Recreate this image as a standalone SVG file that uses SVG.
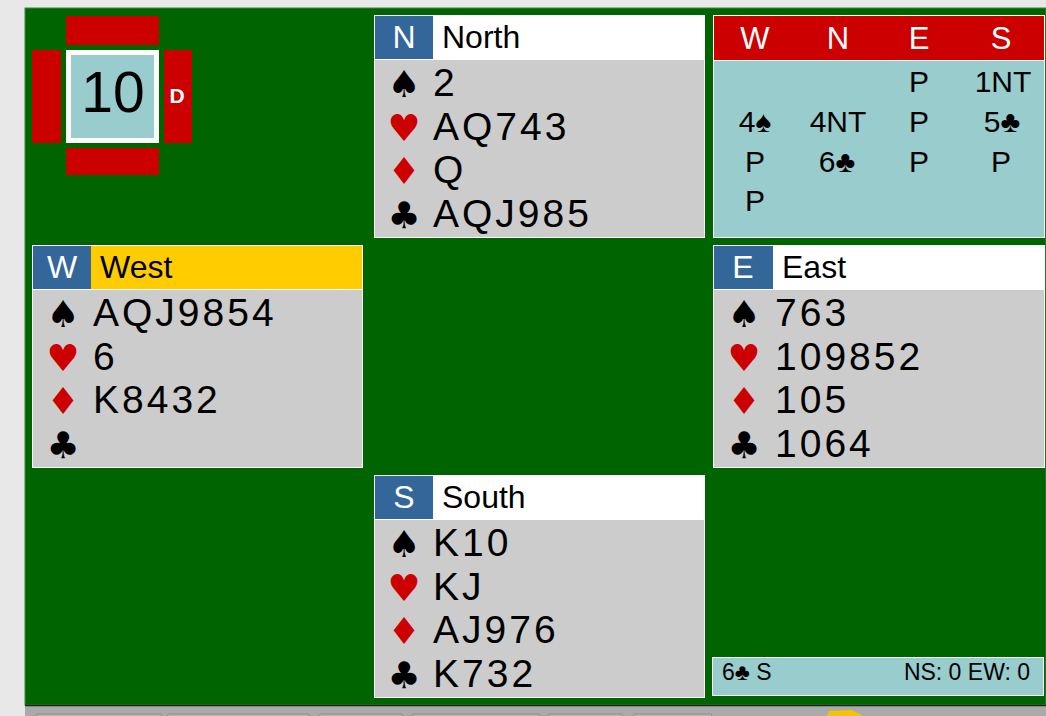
<svg xmlns="http://www.w3.org/2000/svg" width="1046" height="716" viewBox="0 0 1046 716">
<style>
.t{font-family:"Liberation Sans",Arial,sans-serif}
.suit{font-family:"DejaVu Sans","Liberation Sans",sans-serif;font-size:37px;text-anchor:middle}
.card{font-family:"Liberation Sans",Arial,sans-serif;font-size:39px;letter-spacing:3px;fill:#000}
.hdr{font-family:"Liberation Sans",Arial,sans-serif;font-size:32px;fill:#000}
.seat{font-family:"Liberation Sans",Arial,sans-serif;font-size:32px;fill:#fff;text-anchor:middle}
.bid{font-family:"Liberation Sans",Arial,sans-serif;font-size:30px;fill:#000;text-anchor:middle}
.bh{font-family:"Liberation Sans",Arial,sans-serif;font-size:31px;fill:#fff;text-anchor:middle}
.red{fill:#cc0000}
.blk{fill:#000}
.btn{fill:#b4b4b4;stroke:#8c8c8c;stroke-width:1}
</style>
<rect width="1046" height="716" fill="#e8e8e8"/>
<rect x="25" y="8" width="1021" height="697" fill="#006400" stroke="#3a8a3a" stroke-width="1"/>
<rect x="25" y="705" width="1021" height="11" fill="#aaaaaa"/>
<line x1="25" y1="705.5" x2="1046" y2="705.5" stroke="#222" stroke-width="1.5"/>
<g id="toolbar">
<rect class="btn" x="36" y="714" width="126" height="6" rx="2"/>
<rect class="btn" x="167" y="714" width="143" height="6" rx="2"/>
<rect class="btn" x="319" y="714" width="84" height="6" rx="2"/>
<rect class="btn" x="412" y="714" width="128" height="6" rx="2"/>
<rect class="btn" x="548" y="714" width="75" height="6" rx="2"/>
<rect class="btn" x="633" y="714" width="79" height="6" rx="2"/>
<path d="M827 716 L829 711 L852 710 L863 716 Z" fill="#f5c400"/>
</g>
<g id="board">
<rect x="66" y="16" width="93" height="29" fill="#cc0000"/>
<rect x="32" y="50" width="29" height="93" fill="#cc0000"/>
<rect x="164" y="50" width="28" height="93" fill="#cc0000"/>
<rect x="66" y="148" width="93" height="27" fill="#cc0000"/>
<rect x="66" y="50" width="93" height="93" fill="#ffffff"/>
<rect x="71" y="55" width="83" height="83" fill="#99cccc"/>
<text class="t" x="113" y="112" font-size="57" text-anchor="middle" fill="#000">10</text>
<text class="t" x="177" y="103" font-size="21" font-weight="bold" text-anchor="middle" fill="#fff">D</text>
</g>
<g id="north">
<rect x="374.5" y="15.5" width="330" height="222" fill="#cccccc" stroke="#fff" stroke-width="1"/>
<rect x="375" y="16" width="329" height="43" fill="#fff"/>
<rect x="375" y="16" width="58" height="43" fill="#336699"/>
<line x1="375" y1="59.5" x2="704" y2="59.5" stroke="#fff"/>
<text class="seat" x="404" y="48">N</text>
<text class="hdr" x="442" y="48">North</text>
<text class="suit blk" x="404" y="97">♠</text><text class="card" x="433" y="96">2</text>
<text class="suit red" x="404" y="141">♥</text><text class="card" x="433" y="140">AQ743</text>
<text class="suit red" x="404" y="184">♦</text><text class="card" x="433" y="183">Q</text>
<text class="suit blk" x="404" y="228">♣</text><text class="card" x="433" y="227">AQJ985</text>
</g>
<g id="west">
<rect x="32.5" y="245.5" width="330" height="222" fill="#cccccc" stroke="#fff" stroke-width="1"/>
<rect x="33" y="246" width="329" height="43" fill="#ffcc00"/>
<rect x="33" y="246" width="58" height="43" fill="#336699"/>
<line x1="33" y1="289.5" x2="362" y2="289.5" stroke="#fff"/>
<text class="seat" x="62" y="278">W</text>
<text class="hdr" x="100" y="278">West</text>
<text class="suit blk" x="63" y="327">♠</text><text class="card" x="93" y="326">AQJ9854</text>
<text class="suit red" x="63" y="371">♥</text><text class="card" x="93" y="370">6</text>
<text class="suit red" x="63" y="414">♦</text><text class="card" x="93" y="413">K8432</text>
<text class="suit blk" x="63" y="458">♣</text>
</g>
<g id="east">
<rect x="713.5" y="245.5" width="331" height="222" fill="#cccccc" stroke="#fff" stroke-width="1"/>
<rect x="714" y="246" width="330" height="43" fill="#fff"/>
<rect x="714" y="246" width="59" height="43" fill="#336699"/>
<line x1="714" y1="289.5" x2="1044" y2="289.5" stroke="#fff"/>
<text class="seat" x="743" y="278">E</text>
<text class="hdr" x="782" y="278">East</text>
<text class="suit blk" x="744" y="327">♠</text><text class="card" x="775" y="326">763</text>
<text class="suit red" x="744" y="371">♥</text><text class="card" x="775" y="370">109852</text>
<text class="suit red" x="744" y="414">♦</text><text class="card" x="775" y="413">105</text>
<text class="suit blk" x="744" y="458">♣</text><text class="card" x="775" y="457">1064</text>
</g>
<g id="south">
<rect x="374.5" y="475.5" width="330" height="222" fill="#cccccc" stroke="#fff" stroke-width="1"/>
<rect x="375" y="476" width="329" height="43" fill="#fff"/>
<rect x="375" y="476" width="58" height="43" fill="#336699"/>
<line x1="375" y1="519.5" x2="704" y2="519.5" stroke="#fff"/>
<text class="seat" x="404" y="508">S</text>
<text class="hdr" x="442" y="508">South</text>
<text class="suit blk" x="404" y="557">♠</text><text class="card" x="433" y="556">K10</text>
<text class="suit red" x="404" y="601">♥</text><text class="card" x="433" y="600">KJ</text>
<text class="suit red" x="404" y="644">♦</text><text class="card" x="433" y="643">AJ976</text>
<text class="suit blk" x="404" y="688">♣</text><text class="card" x="433" y="687">K732</text>
</g>
<g id="bidding">
<rect x="713.5" y="15.5" width="331" height="222" fill="#99cccc" stroke="#fff" stroke-width="1"/>
<rect x="714" y="16" width="330" height="44" fill="#cc0000"/>
<line x1="714" y1="60.5" x2="1044" y2="60.5" stroke="#fff"/>
<text class="bh" x="755" y="49">W</text>
<text class="bh" x="838" y="49">N</text>
<text class="bh" x="919" y="49">E</text>
<text class="bh" x="1001" y="49">S</text>
<text class="bid" x="919" y="92">P</text>
<text class="bid" x="1003" y="92">1NT</text>
<text class="bid" x="755" y="132">4♠</text>
<text class="bid" x="838" y="132">4NT</text>
<text class="bid" x="919" y="132">P</text>
<text class="bid" x="1002" y="132">5♣</text>
<text class="bid" x="755" y="172">P</text>
<text class="bid" x="837" y="172">6♣</text>
<text class="bid" x="919" y="172">P</text>
<text class="bid" x="1001" y="172">P</text>
<text class="bid" x="755" y="211">P</text>
</g>
<g id="status">
<rect x="712.5" y="657.5" width="331" height="38" fill="#99cccc" stroke="#fff" stroke-width="1"/>
<text class="t" x="722" y="680" font-size="23" fill="#000">6♣ S</text>
<text class="t" x="1030" y="680" font-size="23" fill="#000" text-anchor="end">NS: 0 EW: 0</text>
</g>
</svg>
